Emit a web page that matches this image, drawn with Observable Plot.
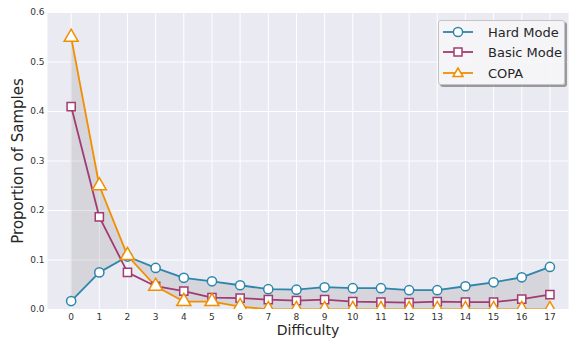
<!DOCTYPE html>
<html>
<head>
<meta charset="utf-8">
<script src="https://cdn.jsdelivr.net/npm/d3@7"></script>
<script src="https://cdn.jsdelivr.net/npm/@observablehq/plot@0.6"></script>
<style>
  html, body { margin: 0; padding: 0; background: #fff; }
  #wrap { position: relative; width: 570px; height: 338px; overflow: hidden; font-family: "DejaVu Sans", sans-serif; }
  #legend {
    position: absolute; left: 438px; top: 20px; width: 127px; height: 65px;
    background: rgba(245,245,248,0.95); border: 1px solid #c4c4c4; border-radius: 3px;
    box-shadow: 2px 2px 0 rgba(0,0,0,0.35); box-sizing: border-box;
  }
  .row { position: absolute; left: 0; height: 20px; display: flex; align-items: center; }
  .row span { font-size: 13px; color: #262626; margin-left: 9px; white-space: nowrap; }
</style>
</head>
<body>
<div id="wrap"></div>
<script>
const difficulty = [0,1,2,3,4,5,6,7,8,9,10,11,12,13,14,15,16,17];
const hardMode  = [0.017,0.075,0.107,0.084,0.064,0.057,0.049,0.041,0.040,0.045,0.043,0.043,0.039,0.039,0.047,0.055,0.065,0.086];
const basicMode = [0.410,0.187,0.075,0.047,0.037,0.024,0.023,0.020,0.018,0.020,0.016,0.015,0.014,0.016,0.015,0.015,0.021,0.030];
const copa      = [0.550,0.250,0.109,0.047,0.016,0.016,0.006,0.000,0.000,0.000,0.000,0.000,0.000,0.000,0.000,0.000,0.000,0.000];
const yTicks = [0,0.1,0.2,0.3,0.4,0.5,0.6];
const seriesNames = ["Hard Mode","Basic Mode","COPA"];
const colors = ["#2E86AB","#A23B72","#F18F01"];
const symbols = ["circle","square","triangle"];

const band = difficulty.map((d,i) => ({d, hard: hardMode[i], copa: copa[i]}));
const series = [hardMode, basicMode, copa];
const rows = [];
series.forEach((arr, s) => arr.forEach((v, i) => rows.push({d: difficulty[i], v, s: seriesNames[s]})));

const font = "'DejaVu Sans', sans-serif";
const marks = [
  Plot.frame({fill: "#EAEAF2", stroke: null}),
  Plot.gridX(difficulty, {stroke: "#fff", strokeOpacity: 1, strokeWidth: 1}),
  Plot.gridY(yTicks, {stroke: "#fff", strokeOpacity: 1, strokeWidth: 1}),
  Plot.areaY(band, {x: "d", y1: "hard", y2: "copa", fill: "gray", fillOpacity: 0.2}),
  Plot.axisX(difficulty, {tickSize: 0, tickPadding: 4, fontSize: 9, label: null, color: "#333"}),
  Plot.axisY(yTicks, {tickSize: 0, tickPadding: 3, fontSize: 9, label: null, tickFormat: d3.format(".1f"), color: "#333"}),
  Plot.text(["Difficulty"], {frameAnchor: "bottom", lineAnchor: "middle", textAnchor: "middle", dy: 20.8, fontSize: 14, fill: "#262626", fontFamily: font}),
  Plot.text(["Proportion of Samples"], {frameAnchor: "left", lineAnchor: "middle", textAnchor: "middle", dx: -29, rotate: -90, fontSize: 15, fill: "#262626", fontFamily: font})
];
seriesNames.forEach((name, s) => {
  const data = rows.filter(r => r.s === name);
  marks.push(Plot.line(data, {x: "d", y: "v", stroke: colors[s], strokeWidth: 1.8, clip: "frame"}));
});
seriesNames.forEach((name, s) => {
  const data = rows.filter(r => r.s === name);
  marks.push(Plot.dot(data, {x: "d", y: "v", symbol: symbols[s], r: s === 2 ? 5.2 : 4.6, fill: "#fff", stroke: colors[s], strokeWidth: 1.5, clip: "frame"}));
});

const chart = Plot.plot({
  width: 570, height: 338,
  marginLeft: 47, marginRight: 2, marginTop: 12, marginBottom: 29,
  style: {fontFamily: font, background: "#fff"},
  x: {domain: [-0.84, 17.66]},
  y: {domain: [0, 0.6]},
  marks
});
const wrap = document.getElementById("wrap");
wrap.appendChild(chart);

const legend = document.createElement("div");
legend.id = "legend";
const tops = [1, 21, 42];
seriesNames.forEach((name, s) => {
  const row = document.createElement("div");
  row.className = "row";
  row.style.top = tops[s] + "px";
  const sym = symbols[s] === "circle"
    ? `<circle cx="15" cy="10" r="4.6" fill="#fff" stroke="${colors[s]}" stroke-width="1.5"/>`
    : symbols[s] === "square"
    ? `<rect x="11" y="6" width="8" height="8" fill="#fff" stroke="${colors[s]}" stroke-width="1.5"/>`
    : `<path d="M15,5 L20,13.5 L10,13.5 Z" fill="#fff" stroke="${colors[s]}" stroke-width="1.5"/>`;
  row.innerHTML = `<svg width="36" height="20" style="margin-left:4px"><line x1="0" y1="10" x2="30" y2="10" stroke="${colors[s]}" stroke-width="1.8"/>${sym}</svg><span>${name}</span>`;
  legend.appendChild(row);
});
wrap.appendChild(legend);
</script>
</body>
</html>
